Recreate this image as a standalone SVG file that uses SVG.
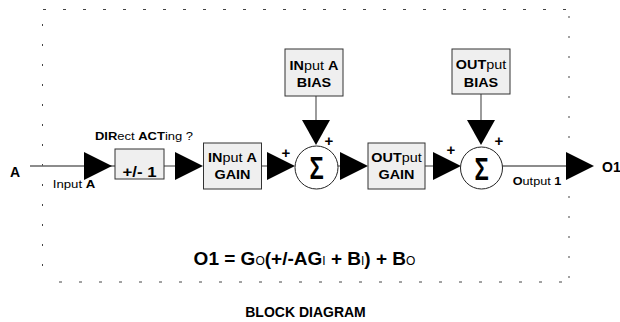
<svg xmlns="http://www.w3.org/2000/svg" xmlns:xlink="http://www.w3.org/1999/xlink" width="620" height="322" viewBox="0 0 620 322">
<style>
text{font-family:"Liberation Sans",Arial,sans-serif;fill:#000}
.b{font-weight:bold}
.box{fill:#efefef;stroke:#333;stroke-width:1}
.sum{fill:#fff;stroke:#222;stroke-width:1}
.ln{stroke:#666;stroke-width:1.3;fill:none}
.dash{stroke:#444;stroke-width:1;fill:none;stroke-dasharray:3 17}
.dashv{stroke:#444;stroke-width:1;fill:none;stroke-dasharray:2 18}
.lbl{font-size:12px}
.sm{font-size:11px}
.plus{font-size:15px;font-weight:bold}
.sig{font-size:25px;font-weight:bold}
</style>
<defs>
<polygon id="triR" points="0,-14 28,0 0,14" fill="#000"/>
<polygon id="triD" points="-14,0 14,0 0,25" fill="#000"/>
</defs>
<g id="frame">
<line class="dash" x1="43" y1="9.5" x2="569" y2="9.5"/>
<line class="dash" x1="59" y1="282" x2="569" y2="282"/>
<line class="dashv" x1="42.5" y1="24" x2="42.5" y2="284"/>
<line class="dashv" x1="569" y1="16" x2="569" y2="284"/>
</g>
<g id="connectors">
<line class="ln" x1="30" y1="166" x2="115" y2="166"/>
<line class="ln" x1="164" y1="166" x2="176" y2="166"/>
<line class="ln" x1="261" y1="166" x2="267" y2="166"/>
<line class="ln" x1="338" y1="166" x2="341" y2="166"/>
<line class="ln" x1="425" y1="166" x2="434" y2="166"/>
<line class="ln" x1="502" y1="166" x2="568" y2="166"/>
<line class="ln" x1="316" y1="96" x2="316" y2="121"/>
<line class="ln" x1="481" y1="94" x2="481" y2="121"/>
<use xlink:href="#triR" x="84" y="166"/>
<use xlink:href="#triR" x="175" y="166"/>
<use xlink:href="#triR" x="267" y="166"/>
<use xlink:href="#triR" x="340" y="166"/>
<use xlink:href="#triR" x="433" y="166"/>
<use xlink:href="#triR" x="566" y="166"/>
<use xlink:href="#triD" x="316" y="120"/>
<use xlink:href="#triD" x="481" y="120"/>
<text class="plus" x="286" y="158" text-anchor="middle">+</text>
<text class="plus" x="329" y="146" text-anchor="middle">+</text>
<text class="plus" x="451" y="155" text-anchor="middle">+</text>
<text class="plus" x="499" y="146" text-anchor="middle">+</text>
<text class="sm" transform="translate(74 187.5) scale(1.2 1)" text-anchor="middle">Input <tspan class="b">A</tspan></text>
<text class="sm" transform="translate(144 140) scale(1.18 1)" text-anchor="middle"><tspan class="b">DIR</tspan>ect <tspan class="b">ACT</tspan>ing ?</text>
<text class="sm" transform="translate(537 184.5) scale(1.15 1)" text-anchor="middle"><tspan class="b">O</tspan>utput <tspan class="b">1</tspan></text>
</g>
<g id="n-in">
<text class="b" x="15" y="177" font-size="14" text-anchor="middle">A</text>
</g>
<g id="n-dir">
<rect class="box" x="115" y="149" width="49" height="30"/>
<text class="b" transform="translate(139.5 176.5) scale(1.2 1)" font-size="14" text-anchor="middle">+/- 1</text>
</g>
<g id="n-gain-in">
<rect class="box" x="203.5" y="143" width="58" height="46"/>
<text class="lbl" transform="translate(232.5 161.5) scale(1.2 1)" text-anchor="middle"><tspan class="b">IN</tspan>put <tspan class="b">A</tspan></text>
<text class="lbl b" transform="translate(232.5 178.5) scale(1.2 1)" text-anchor="middle">GAIN</text>
</g>
<g id="n-bias-in">
<rect class="box" x="285" y="49" width="58" height="47"/>
<text class="lbl" transform="translate(314 69.5) scale(1.2 1)" text-anchor="middle"><tspan class="b">IN</tspan>put <tspan class="b">A</tspan></text>
<text class="lbl b" transform="translate(314 86.5) scale(1.2 1)" text-anchor="middle">BIAS</text>
</g>
<g id="n-sum1">
<circle class="sum" cx="316.5" cy="167.5" r="21.5"/>
<text class="sig" transform="translate(316.5 179) scale(0.95 1.28)" text-anchor="middle">Σ</text>
</g>
<g id="n-gain-out">
<rect class="box" x="368" y="143" width="57" height="46"/>
<text class="lbl" transform="translate(396.5 162) scale(1.2 1)" text-anchor="middle"><tspan class="b">OUT</tspan>put</text>
<text class="lbl b" transform="translate(396.5 178.5) scale(1.2 1)" text-anchor="middle">GAIN</text>
</g>
<g id="n-bias-out">
<rect class="box" x="452" y="49" width="58" height="45"/>
<text class="lbl" transform="translate(481 68.5) scale(1.2 1)" text-anchor="middle"><tspan class="b">OUT</tspan>put</text>
<text class="lbl b" transform="translate(481 86.5) scale(1.2 1)" text-anchor="middle">BIAS</text>
</g>
<g id="n-sum2">
<circle class="sum" cx="481.5" cy="168" r="21"/>
<text class="sig" transform="translate(481.5 179.5) scale(0.95 1.28)" text-anchor="middle">Σ</text>
</g>
<g id="n-out">
<text class="b" x="602" y="172" font-size="14">O1</text>
</g>
<g id="n-eq">
<text class="b" x="304.5" y="265" font-size="19" text-anchor="middle">O1 = G<tspan font-size="12" font-weight="normal">O</tspan>(+/-AG<tspan font-size="12" font-weight="normal">I</tspan> + B<tspan font-size="12" font-weight="normal">I</tspan>) + B<tspan font-size="12" font-weight="normal">O</tspan></text>
</g>
<g id="n-title">
<text class="b" x="305.5" y="317" font-size="14" text-anchor="middle">BLOCK DIAGRAM</text>
</g>
</svg>
